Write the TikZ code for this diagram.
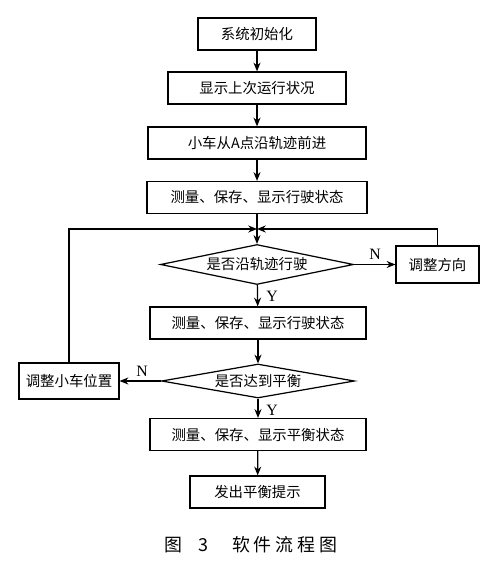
\documentclass[tikz,border=0pt]{standalone}
\usepackage{fontspec}
\setmainfont{Liberation Serif}
\newfontfamily\cjk{Noto Sans CJK SC}
\newfontfamily\capfont[LetterSpace=22]{Noto Sans CJK SC}
\usetikzlibrary{arrows.meta,positioning,shapes.geometric}

\begin{document}
\begin{tikzpicture}[x=0.02cm,y=-0.02cm,
  n/.style={draw,line width=0.7pt,minimum height=0.64cm,inner sep=1pt,
    font=\cjk\fontsize{8.2}{10}\selectfont},
  d/.style={draw,diamond,aspect=4.8,inner sep=0pt,line width=0.7pt,
    minimum width=3.86cm,font=\cjk\fontsize{8.2}{10}\selectfont},
  a/.style={-{Stealth[length=5pt,width=4pt]},line width=0.7pt},
  lb/.style={inner sep=1pt,font=\fontsize{9}{10}\selectfont}
]
  \useasboundingbox (0,0) rectangle (500,570);
  \node[n,minimum width=2.36cm] (init) at (257,34) {系统初始化};
  \node[n,minimum width=3.56cm] (last) at (257,88) {显示上次运行状况};
  \node[n,minimum width=4.36cm] (go) at (257,143) {小车从A点沿轨迹前进};
  \node[n,minimum width=4.4cm] (meas1) at (257,197.5) {测量、保存、显示行驶状态};
  \coordinate (merge) at (257,229);
  \node[d,minimum height=0.8cm] (q1) at (257,264.5) {是否沿轨迹行驶};
  \node[n,minimum width=1.66cm,minimum height=0.74cm] (adjdir) at (437.5,264.5) {调整方向};
  \node[lb] (n1) at (375,254) {N};
  \node[lb] (y1) at (272,296) {Y};
  \node[n,minimum width=4.32cm] (meas2) at (258,323) {测量、保存、显示行驶状态};
  \node[d,minimum height=0.68cm] (q2) at (258,381) {是否达到平衡};
  \node[n,minimum width=2.0cm,minimum height=0.72cm] (adjpos) at (69,381) {调整小车位置};
  \node[lb] (n2) at (142,371) {N};
  \node[lb] (y2) at (272,410) {Y};
  \node[n,minimum width=4.32cm] (meas3) at (258,434.5) {测量、保存、显示平衡状态};
  \node[n,minimum width=2.7cm] (tip) at (257.5,492) {发出平衡提示};
  \node[font=\capfont\fontsize{10.2}{12}\selectfont] (cap) at (251,545) {图\ \ 3\ \ \ 软件流程图};
  \draw[a] (init) -- (last);
  \draw[a] (last) -- (go);
  \draw[a] (go) -- (meas1);
  \draw[a] (meas1) -- (q1);
  \draw[a] (q1) -- (adjdir);
  \draw[a] (adjdir.north) |- (merge);
  \draw[a] (q1) -- (meas2);
  \draw[a] (meas2) -- (q2);
  \draw[a] (q2) -- (adjpos);
  \draw[a] (adjpos.north) |- (merge);
  \draw[a] (q2) -- (meas3);
  \draw[a] (meas3) -- (tip);
\end{tikzpicture}
\end{document}
